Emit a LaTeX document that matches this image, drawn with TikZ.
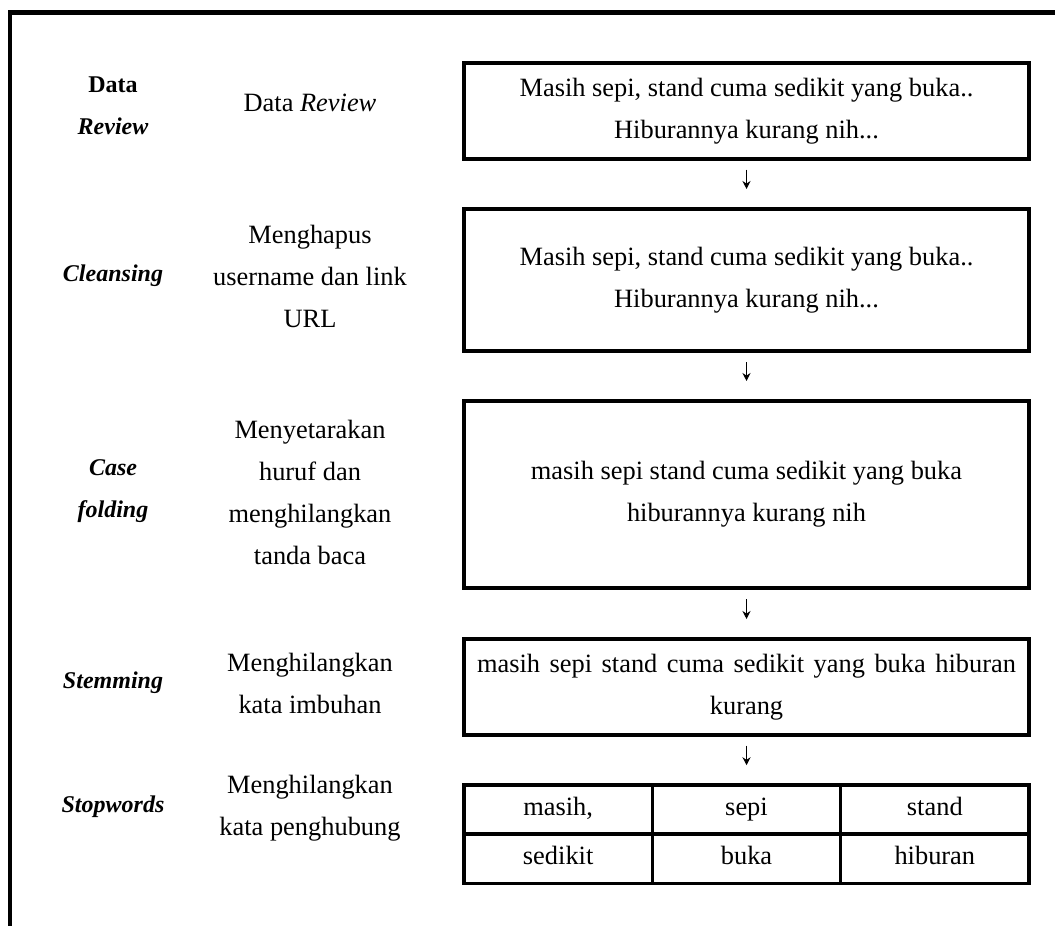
\documentclass[tikz,border=0pt]{standalone}
\usepackage{fontspec}
\setmainfont{Liberation Serif}
\usetikzlibrary{arrows.meta}
\tikzset{
  frameline/.style={line width=2.25pt, line join=miter},
  box/.style={draw, line width=2pt, minimum width=282.5pt, align=center, inner sep=0pt, font=\fontsize{13.2}{21}\selectfont},
  cell/.style={draw, line width=1.75pt, minimum width=94.17pt, minimum height=24.625pt, inner sep=0pt, text height=9.5pt, text depth=3.5pt, font=\fontsize{13.2}{14}\selectfont},
  celltext/.style={yshift=1pt},
  lbl/.style={align=center, font=\fontsize{12}{21}\selectfont\bfseries\itshape},
  desc/.style={align=center, font=\fontsize{13.2}{21}\selectfont},
  arr/.style={-{Stealth[length=4pt,width=4pt]}, line width=0.5pt, shorten <=4.5pt, shorten >=9pt}
}
\begin{document}
\begin{tikzpicture}[x=0.5pt,y=-0.5pt]
\useasboundingbox (0,0) rectangle (1055,926);
\draw[frameline] (1060,12.5) -- (10,12.5) -- (10,930);

% boxes
\node[box, minimum height=47.75pt] (b1) at (746.5,110.75) {Masih sepi, stand cuma sedikit yang buka..\\Hiburannya kurang nih...};
\node[box, minimum height=71pt] (b2) at (746.5,280) {Masih sepi, stand cuma sedikit yang buka..\\Hiburannya kurang nih...};
\node[box, minimum height=93.5pt] (b3) at (746.5,494.5) {masih sepi stand cuma sedikit yang buka\\hiburannya kurang nih};
\node[box, minimum height=47.75pt] (b4) at (746.5,686.75) {\makebox[269.5pt][s]{masih sepi stand cuma sedikit yang buka hiburan}\\kurang};

% table
\node[cell] (t11) at (558.17,809.6) {masih,};
\node[cell] (t12) at (746.5,809.6) {sepi};
\node[cell] (t13) at (934.83,809.6) {stand};
\node[cell] (t21) at (558.17,858.9) {sedikit};
\node[cell] (t22) at (746.5,858.9) {buka};
\node[cell] (t23) at (934.83,858.9) {hiburan};

% arrows
\draw[arr] (b1.south) -- (b2.north);
\draw[arr] (b2.south) -- (b3.north);
\draw[arr] (b3.south) -- (b4.north);
\draw[arr] (b4.south) -- (t12.north);

% left labels
\node[lbl] (l1) at (113,106) {\textup{Data}\\Review};
\node[lbl] (l2) at (113,276) {Cleansing};
\node[lbl] (l3) at (113,491) {Case\\folding};
\node[lbl] (l4) at (113,683) {Stemming};
\node[lbl] (l5) at (113,807) {Stopwords};

% descriptions
\node[desc] (d1) at (310,103) {Data \textit{Review}};
\node[desc] (d2) at (310,276) {Menghapus\\username dan link\\URL};
\node[desc] (d3) at (310,492.5) {Menyetarakan\\huruf dan\\menghilangkan\\tanda baca};
\node[desc] (d4) at (310,683) {Menghilangkan\\kata imbuhan};
\node[desc] (d5) at (310,808) {Menghilangkan\\kata penghubung};
\end{tikzpicture}
\end{document}
